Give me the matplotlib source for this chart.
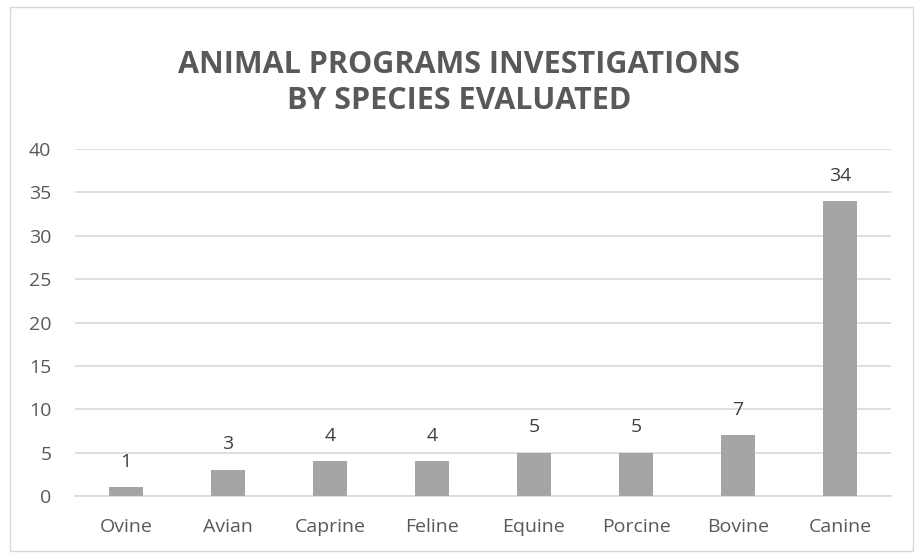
import matplotlib.pyplot as plt
from matplotlib.patches import Rectangle

species = ["Ovine", "Avian", "Caprine", "Feline", "Equine", "Porcine", "Bovine", "Canine"]
counts = [1, 3, 4, 4, 5, 5, 7, 34]
y_ticks = [0, 5, 10, 15, 20, 25, 30, 35, 40]

plt.rcParams['font.family'] = ['Open Sans', 'DejaVu Sans']
text_color = "#595959"

fig = plt.figure(figsize=(9.19, 5.58), dpi=100)
fig.patches.append(Rectangle((10 / 919, 7 / 558), 903 / 919, 544 / 558,
                             transform=fig.transFigure, fill=False,
                             edgecolor="#D9D9D9", linewidth=1))

ax = fig.add_axes([75 / 919, 1 - 496 / 558, 816 / 919, 347 / 558])
x = range(len(species))
bars = ax.bar(x, counts, width=0.33, color="#A5A5A5", zorder=3)

for b, v in zip(bars, counts):
    ax.text(b.get_x() + b.get_width() / 2, v + 1.9, str(v), ha="center", va="bottom",
            fontsize=14, color="#404040")

ax.set_xlim(-0.5, len(species) - 0.5)
ax.set_ylim(0, 40)
ax.set_yticks(y_ticks)
ax.set_xticks(list(x))
ax.set_xticklabels(species)
ax.yaxis.grid(True, color="#D9D9D9", linewidth=1.2, zorder=0)
ax.tick_params(axis="both", length=0, labelsize=14, colors=text_color)
ax.tick_params(axis="x", pad=16)
ax.tick_params(axis="y", pad=17)
for s in ["top", "right", "left"]:
    ax.spines[s].set_visible(False)
ax.spines["bottom"].set_color("#D9D9D9")
ax.spines["bottom"].set_linewidth(1.2)

fig.text(0.5, 1 - 83 / 558, "ANIMAL PROGRAMS INVESTIGATIONS\nBY SPECIES EVALUATED",
         ha="center", va="center", fontsize=22, fontweight="bold", color=text_color,
         linespacing=1.25)

fig.savefig("out.png", dpi=100)
